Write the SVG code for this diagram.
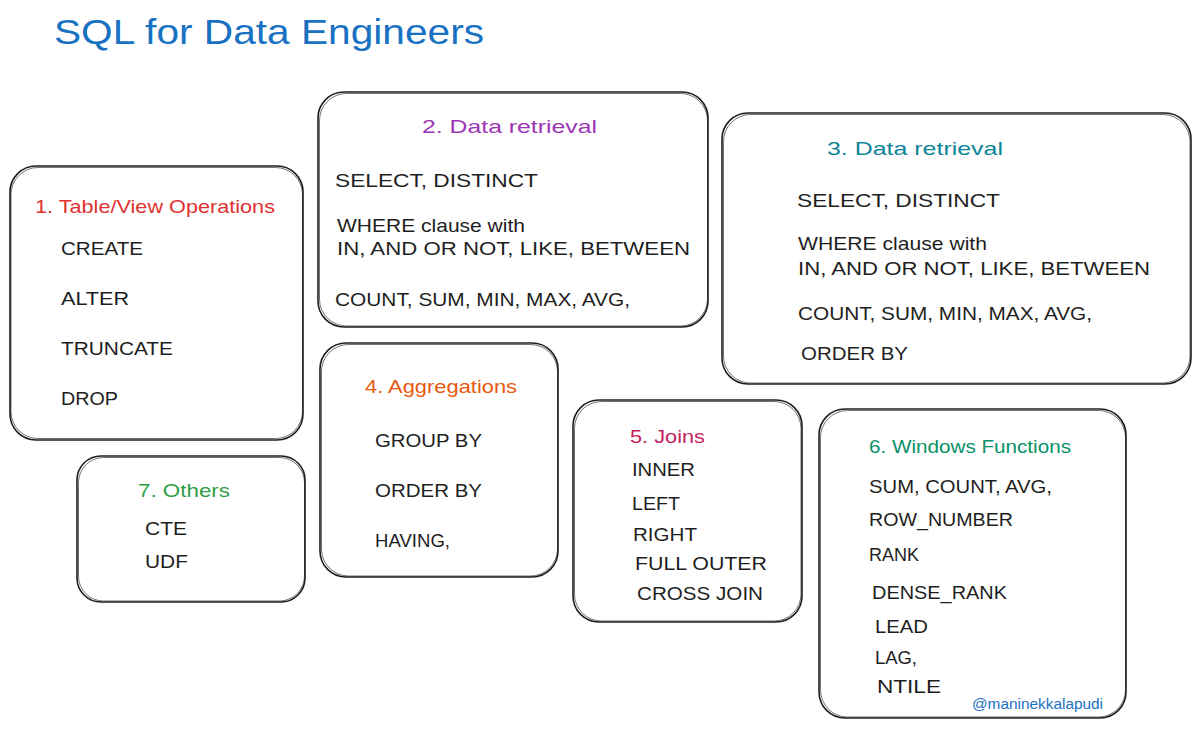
<svg xmlns="http://www.w3.org/2000/svg" width="1200" height="729" viewBox="0 0 1200 729">
<style>
.box{fill:#ffffff;stroke:#1e1e1e;stroke-width:1.6}
.box2{fill:none;stroke:#1e1e1e;stroke-width:0.9;opacity:0.7}
text{font-family:"Liberation Sans","DejaVu Sans",sans-serif;font-size:19px;fill:#1e1e1e}
.title{font-size:35px;fill:#1971c2}
.h{font-size:19px}
.red{fill:#e03131}
.purple{fill:#9c36b5}
.teal{fill:#0c8599}
.orange{fill:#e8590c}
.crimson{fill:#c2255c}
.green{fill:#099268}
.green2{fill:#2f9e44}
.sig{font-size:14px;fill:#1971c2}
</style>
<rect width="1200" height="729" fill="#ffffff"/>
<text class="title" x="54" y="44" textLength="430" lengthAdjust="spacingAndGlyphs">SQL for Data Engineers</text>
<g id="connectors"></g>

<g id="node1">
<rect class="box" x="10" y="166" width="293" height="274" rx="26"/>
<rect class="box2" x="11" y="167.5" width="291.5" height="271" rx="27"/>
<text class="h red" x="35" y="213" textLength="240" lengthAdjust="spacingAndGlyphs">1. Table/View Operations</text>
<text x="61" y="255" textLength="82" lengthAdjust="spacingAndGlyphs">CREATE</text>
<text x="61" y="305" textLength="68" lengthAdjust="spacingAndGlyphs">ALTER</text>
<text x="61" y="355" textLength="112" lengthAdjust="spacingAndGlyphs">TRUNCATE</text>
<text x="61" y="405" textLength="57" lengthAdjust="spacingAndGlyphs">DROP</text>
</g>

<g id="node2">
<rect class="box" x="318" y="92" width="390" height="235" rx="26"/>
<rect class="box2" x="319.5" y="93.5" width="388" height="232.5" rx="27"/>
<text class="h purple" x="422" y="133" textLength="175" lengthAdjust="spacingAndGlyphs">2. Data retrieval</text>
<text x="335" y="187" textLength="203" lengthAdjust="spacingAndGlyphs">SELECT, DISTINCT</text>
<text x="337" y="232" textLength="188" lengthAdjust="spacingAndGlyphs">WHERE clause with</text>
<text x="337" y="255" textLength="353" lengthAdjust="spacingAndGlyphs">IN, AND OR NOT, LIKE, BETWEEN</text>
<text x="335" y="306" textLength="295" lengthAdjust="spacingAndGlyphs">COUNT, SUM, MIN, MAX, AVG,</text>
</g>

<g id="node3">
<rect class="box" x="722" y="113" width="469" height="271" rx="26"/>
<rect class="box2" x="723.5" y="114.5" width="466.5" height="268.5" rx="27"/>
<text class="h teal" x="827" y="155" textLength="176" lengthAdjust="spacingAndGlyphs">3. Data retrieval</text>
<text x="797" y="207" textLength="203" lengthAdjust="spacingAndGlyphs">SELECT, DISTINCT</text>
<text x="798" y="250" textLength="189" lengthAdjust="spacingAndGlyphs">WHERE clause with</text>
<text x="798" y="275" textLength="352" lengthAdjust="spacingAndGlyphs">IN, AND OR NOT, LIKE, BETWEEN</text>
<text x="798" y="320" textLength="294" lengthAdjust="spacingAndGlyphs">COUNT, SUM, MIN, MAX, AVG,</text>
<text x="801" y="360" textLength="107" lengthAdjust="spacingAndGlyphs">ORDER BY</text>
</g>

<g id="node4">
<rect class="box" x="320" y="343" width="238" height="234" rx="26"/>
<rect class="box2" x="321.5" y="344.5" width="236" height="231.5" rx="27"/>
<text class="h orange" x="365" y="393" textLength="152" lengthAdjust="spacingAndGlyphs">4. Aggregations</text>
<text x="375" y="447" textLength="107" lengthAdjust="spacingAndGlyphs">GROUP BY</text>
<text x="375" y="497" textLength="107" lengthAdjust="spacingAndGlyphs">ORDER BY</text>
<text x="375" y="547" textLength="75" lengthAdjust="spacingAndGlyphs">HAVING,</text>
</g>

<g id="node5">
<rect class="box" x="573" y="400" width="229" height="222" rx="26"/>
<rect class="box2" x="574.5" y="401.5" width="226.5" height="219.5" rx="27"/>
<text class="h crimson" x="630" y="443" textLength="75" lengthAdjust="spacingAndGlyphs">5. Joins</text>
<text x="632" y="476" textLength="63" lengthAdjust="spacingAndGlyphs">INNER</text>
<text x="632" y="510" textLength="48" lengthAdjust="spacingAndGlyphs">LEFT</text>
<text x="633" y="541" textLength="64" lengthAdjust="spacingAndGlyphs">RIGHT</text>
<text x="635" y="570" textLength="132" lengthAdjust="spacingAndGlyphs">FULL OUTER</text>
<text x="637" y="600" textLength="126" lengthAdjust="spacingAndGlyphs">CROSS JOIN</text>
</g>

<g id="node6">
<rect class="box" x="819" y="409" width="307" height="309" rx="26"/>
<rect class="box2" x="820.5" y="410.5" width="305" height="306.5" rx="27"/>
<text class="h green" x="869" y="453" textLength="202" lengthAdjust="spacingAndGlyphs">6. Windows Functions</text>
<text x="869" y="493" textLength="183" lengthAdjust="spacingAndGlyphs">SUM, COUNT, AVG,</text>
<text x="869" y="526" textLength="144" lengthAdjust="spacingAndGlyphs">ROW_NUMBER</text>
<text x="869" y="561" textLength="50" lengthAdjust="spacingAndGlyphs">RANK</text>
<text x="872" y="599" textLength="135" lengthAdjust="spacingAndGlyphs">DENSE_RANK</text>
<text x="875" y="633" textLength="53" lengthAdjust="spacingAndGlyphs">LEAD</text>
<text x="875" y="664" textLength="42" lengthAdjust="spacingAndGlyphs">LAG,</text>
<text x="877" y="693" textLength="64" lengthAdjust="spacingAndGlyphs">NTILE</text>
<text class="sig" x="972" y="709" textLength="131" lengthAdjust="spacingAndGlyphs">@maninekkalapudi</text>
</g>

<g id="node7">
<rect class="box" x="77" y="456" width="228" height="146" rx="24"/>
<rect class="box2" x="78.5" y="457.5" width="226" height="143.5" rx="25"/>
<text class="h green2" x="138" y="497" textLength="92" lengthAdjust="spacingAndGlyphs">7. Others</text>
<text x="145" y="535" textLength="42" lengthAdjust="spacingAndGlyphs">CTE</text>
<text x="145" y="568" textLength="43" lengthAdjust="spacingAndGlyphs">UDF</text>
</g>
</svg>
